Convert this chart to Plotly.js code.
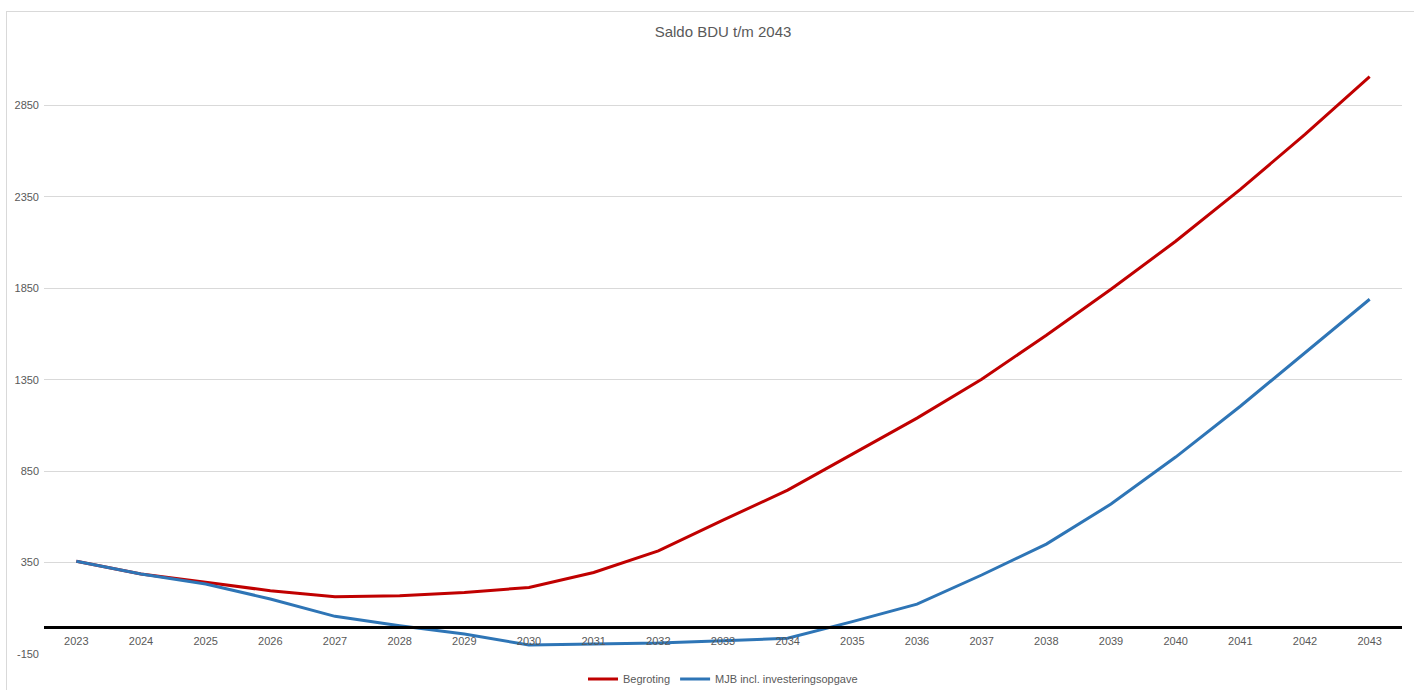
<!DOCTYPE html>
<html>
<head>
<meta charset="utf-8">
<script src="https://cdn.plot.ly/plotly-3.0.1.min.js"></script>
<style>
html,body{margin:0;padding:0;background:#fff;overflow:hidden;}
#frame{position:absolute;left:6px;top:11px;width:1420px;height:700px;border:1px solid #d9d9d9;}
#chart{position:absolute;left:6px;top:10px;width:1420px;height:690px;}
</style>
</head>
<body>
<div id="frame"></div>
<div id="chart"></div>
<script>
const years = ['2023','2024','2025','2026','2027','2028','2029','2030','2031','2032','2033','2034','2035','2036','2037','2038','2039','2040','2041','2042','2043'];
const begroting = [357,287,242,196,163,169,187,214,296,414,582,746,943,1140,1353,1593,1845,2107,2391,2692,3007];
const mjb = [357,287,233,151,56,5,-41,-101,-95,-90,-77,-64,27,123,282,451,670,927,1205,1495,1790];
const yTicks = [-150,350,850,1350,1850,2350,2850];
const yMin = -150, yMax = 3350;

const traces = [
  {x: years, y: begroting, type:'scatter', mode:'lines', name:'Begroting',
   line:{color:'#C00000', width:3}},
  {x: years, y: mjb, type:'scatter', mode:'lines', name:'MJB incl. investeringsopgave',
   line:{color:'#2E75B6', width:3}}
];

const layout = {
  width:1420, height:690,
  margin:{l:38, r:24, t:4, b:46},
  paper_bgcolor:'rgba(0,0,0,0)', plot_bgcolor:'rgba(0,0,0,0)',
  font:{family:'Liberation Sans, Arial, sans-serif', color:'#595959', size:11},
  title:{text:'Saldo BDU t/m 2043', font:{size:15, color:'#595959'}, x:0.5, xanchor:'center', xref:'paper',
         y:1-22/690, yref:'container', yanchor:'middle'},
  xaxis:{type:'category', range:[-0.5, 20.5], anchor:'free',
         position:(0 - yMin)/(yMax - yMin),
         showline:true, linecolor:'#000', linewidth:3, showgrid:false, zeroline:false,
         ticks:'', tickfont:{size:11, color:'#595959'}, ticklabelstandoff:3},
  yaxis:{range:[yMin, yMax], tickvals:yTicks, ticktext:yTicks.map(String),
         showgrid:true, gridcolor:'#d9d9d9', gridwidth:1, zeroline:false, showline:false,
         ticks:'', tickfont:{size:11, color:'#595959'}, ticklabelstandoff:4},
  showlegend:true,
  legend:{orientation:'h', x:0.5, xanchor:'center', y:-0.039, yanchor:'middle',
          font:{size:11, color:'#595959'}, itemwidth:30, tracegroupgap:0}
};

Plotly.newPlot('chart', traces, layout, {displayModeBar:false, staticPlot:true});
</script>
</body>
</html>
